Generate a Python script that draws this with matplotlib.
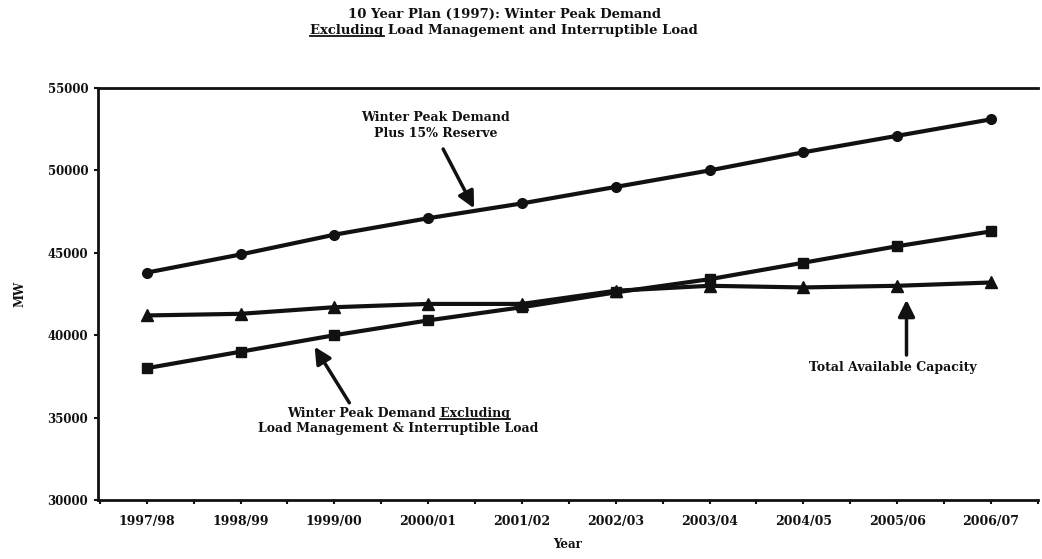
import matplotlib
matplotlib.use("Agg")
import matplotlib.pyplot as plt
from matplotlib.lines import Line2D

# Ten-year winter peak outlook (MW)
years = ["1997/98", "1998/99", "1999/00", "2000/01", "2001/02",
         "2002/03", "2003/04", "2004/05", "2005/06", "2006/07"]
peak_plus_reserve = [43800, 44900, 46100, 47100, 48000, 49000, 50000, 51100, 52100, 53100]
peak_excluding = [38000, 39000, 40000, 40900, 41700, 42600, 43400, 44400, 45400, 46300]
available_capacity = [41200, 41300, 41700, 41900, 41900, 42700, 43000, 42900, 43000, 43200]
y_ticks = [30000, 35000, 40000, 45000, 50000, 55000]

INK = "#111111"
FONT = dict(family="DejaVu Serif", weight="bold", color=INK)

fig = plt.figure(figsize=(10.42, 5.59), dpi=100)
ax = fig.add_axes([0.094, 0.1055, 0.902, 0.737])

x = list(range(len(years)))
line_kw = dict(color=INK, lw=3.0, solid_capstyle="round", solid_joinstyle="round")
ax.plot(x, peak_plus_reserve, marker="o", ms=7, **line_kw, zorder=3)
ax.plot(x, available_capacity, marker="^", ms=8, **line_kw, zorder=3)
ax.plot(x, peak_excluding, marker="s", ms=7, **line_kw, zorder=4)

ax.set_xlim(-0.52, 9.42)
ax.set_ylim(y_ticks[0], y_ticks[-1])
ax.set_yticks(y_ticks)
ax.set_yticklabels([str(v) for v in y_ticks], fontsize=8.5, **FONT)
ax.set_xticks(x)
ax.set_xticklabels(years, fontsize=9, **FONT)
ax.set_xticks([i - 0.5 for i in range(len(years) + 1)], minor=True)
ax.tick_params(axis="x", which="both", direction="out", length=3, width=1.5, color=INK, pad=8)
ax.tick_params(axis="y", direction="out", length=3, width=1.5, color=INK, pad=4)

for side in ("left", "bottom", "top"):
    ax.spines[side].set_linewidth(2.0)
    ax.spines[side].set_color(INK)
ax.spines["right"].set_visible(False)

ax.set_ylabel("MW", fontsize=8.5, labelpad=15, **FONT)
ax.set_xlabel("Year", fontsize=8.5, labelpad=7, **FONT)

arrow = dict(arrowstyle="-|>,head_length=1.0,head_width=0.5", color=INK, lw=2.5,
             shrinkA=0, shrinkB=0)

# Reserve-margin annotation
ax.text(3.08, 53200, "Winter Peak Demand", ha="center", va="center", fontsize=9, **FONT)
ax.text(3.08, 52250, "Plus 15% Reserve", ha="center", va="center", fontsize=9, **FONT)
ax.annotate("", xy=(3.49, 47700), xytext=(3.16, 51300), arrowprops=arrow)

# Demand excluding load management annotation
excl_line1 = ax.text(2.68, 35250, "Winter Peak Demand Excluding", ha="center", va="center",
                     fontsize=9, **FONT)
ax.text(2.68, 34350, "Load Management & Interruptible Load", ha="center", va="center",
        fontsize=9, **FONT)
ax.annotate("", xy=(1.79, 39300), xytext=(2.16, 35900), arrowprops=arrow)

# Capacity annotation
ax.text(7.95, 38050, "Total Available Capacity", ha="center", va="center", fontsize=9, **FONT)
ax.annotate("", xy=(8.1, 42150), xytext=(8.1, 38800), arrowprops=arrow)

# Title (two lines, second begins with an underlined word)
fig.text(0.484, 0.975, "10 Year Plan (1997): Winter Peak Demand", ha="center", va="center",
         fontsize=9.5, **FONT)
title2 = fig.text(0.484, 0.946, "Excluding Load Management and Interruptible Load",
                  ha="center", va="center", fontsize=9.5, **FONT)

fig.canvas.draw()
renderer = fig.canvas.get_renderer()


def word_width(word, size):
    tmp = fig.text(0, 0, word, fontsize=size, **FONT)
    w = tmp.get_window_extent(renderer).width
    tmp.remove()
    return w


def underline(x0, x1, y):
    W, H = fig.bbox.width, fig.bbox.height
    fig.add_artist(Line2D([x0 / W, x1 / W], [y / H, y / H], color=INK, lw=1.3,
                          transform=fig.transFigure))


bb = title2.get_window_extent(renderer)
underline(bb.x0, bb.x0 + word_width("Excluding", 9.5), bb.y0 + 1)

bb = excl_line1.get_window_extent(renderer)
underline(bb.x1 - word_width("Excluding", 9), bb.x1, bb.y0 + 1)

fig.savefig("out.png", dpi=100)
